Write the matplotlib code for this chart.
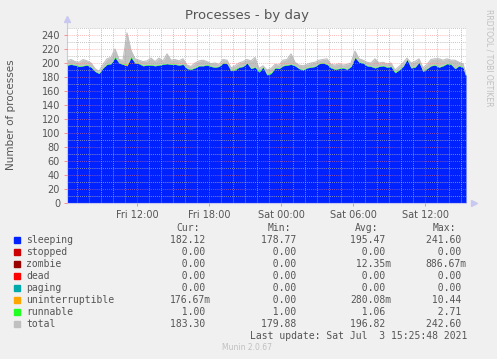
import matplotlib
matplotlib.use("Agg")
import matplotlib.pyplot as plt
import matplotlib.dates as mdates
import numpy as np
import pandas as pd

# samples every 20 min from Fri 06:10, last one at Sat 15:25
sleeping = [197, 198, 197, 195, 196, 197, 194, 188, 185, 193,
            198, 199, 208, 200, 198, 196, 208, 200, 199, 196,
            197, 197, 196, 197, 198, 199, 198, 198, 197, 198,
            192, 191, 193, 196, 196, 197, 195, 194, 195, 200,
            199, 189, 190, 194, 195, 200, 192, 194, 187, 194,
            183, 185, 193, 192, 196, 197, 198, 196, 192, 190,
            193, 194, 195, 199, 200, 198, 193, 191, 192, 193,
            191, 195, 208, 201, 200, 196, 195, 193, 195, 196,
            194, 195, 186, 190, 195, 205, 193, 194, 201, 188,
            192, 196, 197, 194, 196, 199, 198, 192, 196, 194, 182]
uninterruptible = [0, 0, 0, 0, 0, 0, 0, 0, 0, 0,
                   0, 0, 0, 0, 0, 2, 0, 0, 0, 0,
                   0, 0, 0, 0, 0, 0, 0, 0, 0, 0,
                   0, 0, 0, 0, 0, 0, 0, 0, 0, 0,
                   0, 0, 0, 0, 0, 0, 0, 0, 0, 0,
                   0, 0, 0, 0, 0, 0, 0, 0, 0, 0,
                   0, 0, 0, 0, 0, 0, 0, 0, 0, 0,
                   0, 0, 1, 0, 0, 0, 0, 0, 0, 0,
                   0, 0, 0, 0, 0, 0, 0, 0, 0, 0,
                   0, 0, 0, 0, 0, 0, 0, 0, 0, 0, 0]
runnable = [1, 1, 1, 1, 1, 1, 1, 1, 1, 1,
            1, 1, 2, 1, 1, 1, 2, 1, 1, 1,
            1, 1, 1, 1, 1, 1, 1, 1, 1, 1,
            1, 1, 1, 1, 1, 1, 1, 1, 1, 1,
            1, 1, 2, 1, 1, 1, 1, 1, 2, 1,
            1, 2, 1, 1, 1, 1, 1, 1, 1, 1,
            1, 1, 1, 1, 1, 1, 1, 1, 1, 1,
            1, 1, 1, 1, 1, 1, 1, 1, 1, 1,
            1, 1, 2, 1, 1, 1, 1, 1, 1, 1,
            1, 1, 1, 1, 1, 1, 1, 1, 1, 1, 1]
total = [203, 205, 202, 201, 205, 203, 200, 192, 188, 198,
         206, 208, 220, 205, 204, 243, 218, 206, 204, 202,
         203, 207, 202, 207, 203, 213, 204, 205, 203, 206,
         197, 195, 200, 203, 204, 202, 199, 200, 198, 205,
         204, 193, 196, 200, 202, 205, 203, 208, 192, 196,
         190, 192, 198, 197, 204, 205, 213, 201, 197, 196,
         198, 200, 201, 204, 205, 206, 198, 197, 199, 197,
         198, 200, 217, 206, 204, 201, 200, 206, 200, 201,
         199, 200, 190, 195, 200, 207, 200, 202, 206, 193,
         198, 205, 206, 206, 204, 206, 204, 204, 201, 199, 183]

names = ["sleeping", "stopped", "zombie", "dead", "paging",
         "uninterruptible", "runnable", "total"]
colors = ["#0022ff", "#cc0000", "#990000", "#ff0000", "#00aaaa",
          "#ffa500", "#22ff22", "#c0c0c0"]
cur = ["182.12 ", "  0.00 ", "  0.00 ", "  0.00 ", "  0.00 ", "176.67m", "  1.00 ", "183.30 "]
mins = ["178.77 ", "  0.00 ", "  0.00 ", "  0.00 ", "  0.00 ", "  0.00 ", "  1.00 ", "179.88 "]
avgs = ["195.47 ", "  0.00 ", " 12.35m", "  0.00 ", "  0.00 ", "280.08m", "  1.06 ", "196.82 "]
maxs = ["241.60 ", "  0.00 ", "886.67m", "  0.00 ", "  0.00 ", " 10.44 ", "  2.71 ", "242.60 "]

W, H = 497, 359
t0 = pd.Timestamp("2021-07-02 06:10")
times = list(pd.date_range(t0, periods=100, freq="20min")) + [pd.Timestamp("2021-07-03 15:25")]
x = mdates.date2num(times)

def fx(px):
    return px / W

def fy(py):
    return 1 - py / H

txt = "#555555"
fig = plt.figure(figsize=(W / 100, H / 100), dpi=100, facecolor="#f0f0f0")
ax = fig.add_axes([fx(67), fy(203), (466 - 67) / W, (203 - 28) / H])
ax.set_facecolor("white")

s = np.array(sleeping, float)
u = np.array(uninterruptible, float)
r = np.array(runnable, float)
tot = np.array(total, float)
ax.fill_between(x, 0, s, color=colors[0], lw=0)
ax.fill_between(x, s, s + u, color=colors[5], lw=0)
ax.fill_between(x, s + u, s + u + r, color=colors[6], lw=0)
ax.fill_between(x, s + u + r, np.maximum(tot, s + u + r), color=colors[7], lw=0)
ax.plot(x, tot, color=colors[7], lw=0.8)

ax.set_xlim(mdates.date2num(t0), mdates.date2num(pd.Timestamp("2021-07-03 15:25")))
ax.set_ylim(0, 250)
ax.set_yticks(np.arange(0, 241, 20))
ax.set_yticks(np.arange(10, 251, 20), minor=True)
ax.xaxis.set_major_locator(mdates.HourLocator(byhour=[0, 6, 12, 18]))
ax.xaxis.set_major_formatter(mdates.DateFormatter("%a %H:%M"))
ax.xaxis.set_minor_locator(mdates.HourLocator())
ax.tick_params(labelsize=7, colors=txt, length=2, width=0.6, pad=3)
ax.tick_params(which="minor", length=0)
ax.tick_params(axis="x", colors="#ff8080", labelcolor=txt)
ax.tick_params(axis="y", colors="#ff8080", labelcolor=txt)

# hour grid and 3-hour grid, drawn over the areas like rrdtool
ax.set_axisbelow(False)
ax.grid(which="minor", color="#b0b0b0", alpha=0.6, lw=0.6, ls=(0, (1, 1.5)))
ax.grid(which="major", axis="y", color="#ff8080", alpha=0.7, lw=0.6, ls=(0, (1, 1.5)))
for h in pd.date_range("2021-07-02 09:00", "2021-07-03 15:00", freq="3h"):
    ax.axvline(mdates.date2num(h), color="#ff8080", alpha=0.7, lw=0.6, ls=(0, (1, 1.5)))
ax.grid(which="major", axis="x", visible=False)
for h in pd.date_range("2021-07-02 07:00", "2021-07-03 15:00", freq="1h"):
    if h.hour % 3:
        ax.axvline(mdates.date2num(h), color="#b0b0b0", alpha=0.6, lw=0.6, ls=(0, (1, 1.5)))
for v in np.arange(10, 251, 20):
    ax.axhline(v, color="#b0b0b0", alpha=0.6, lw=0.6, ls=(0, (1, 1.5)))

for sp in ["top", "right"]:
    ax.spines[sp].set_visible(False)
for sp in ["left", "bottom"]:
    ax.spines[sp].set_color("#c8c8f0")
    ax.spines[sp].set_linewidth(0.8)
ax.spines["left"].set_bounds(0, 258)
ax.plot([0], [1.05], marker="^", color="#c8c8f0", ms=5, transform=ax.transAxes, clip_on=False)
ax.plot([1.02], [0], marker=">", color="#c8c8f0", ms=5, transform=ax.transAxes, clip_on=False)

fig.text(fx(247), fy(15), "Processes - by day", ha="center", va="center", fontsize=9.5, color=txt)
fig.text(fx(11), fy(115), "Number of processes", rotation=90, ha="center", va="center",
         fontsize=7.5, color=txt)
fig.text(fx(489), fy(58), "RRDTOOL / TOBI OETIKER", rotation=270, ha="center", va="center",
         fontsize=5.5, color="#c0c0c0")

mono = "DejaVu Sans Mono"
fs = 7
fig.text(fx(200), fy(228), "Cur:", ha="right", va="center", family=mono, fontsize=fs, color=txt)
fig.text(fx(291), fy(228), "Min:", ha="right", va="center", family=mono, fontsize=fs, color=txt)
fig.text(fx(378), fy(228), "Avg:", ha="right", va="center", family=mono, fontsize=fs, color=txt)
fig.text(fx(456), fy(228), "Max:", ha="right", va="center", family=mono, fontsize=fs, color=txt)
for i, name in enumerate(names):
    yy = 240 + 12 * i
    fig.patches.append(plt.Rectangle((fx(14), fy(yy + 3)), 6 / W, 6 / H, color=colors[i],
                                     transform=fig.transFigure, figure=fig))
    fig.text(fx(26), fy(yy), name, ha="left", va="center", family=mono, fontsize=fs, color=txt)
    fig.text(fx(211), fy(yy), cur[i], ha="right", va="center", family=mono, fontsize=fs, color=txt)
    fig.text(fx(302), fy(yy), mins[i], ha="right", va="center", family=mono, fontsize=fs, color=txt)
    fig.text(fx(391), fy(yy), avgs[i], ha="right", va="center", family=mono, fontsize=fs, color=txt)
    fig.text(fx(467), fy(yy), maxs[i], ha="right", va="center", family=mono, fontsize=fs, color=txt)
fig.text(fx(467), fy(336), "Last update: Sat Jul  3 15:25:48 2021", ha="right", va="center",
         family=mono, fontsize=fs, color=txt)
fig.text(fx(247), fy(348), "Munin 2.0.67", ha="center", va="center", fontsize=5.5, color="#c0c0c0")

fig.savefig("out.png", dpi=100, facecolor=fig.get_facecolor())
